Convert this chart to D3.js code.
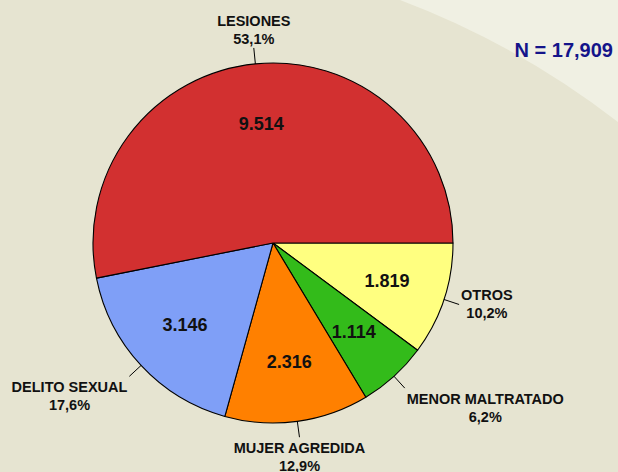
<!DOCTYPE html>
<html>
<head>
<meta charset="utf-8">
<script src="https://cdn.jsdelivr.net/npm/d3@7"></script>
<style>
html,body{margin:0;padding:0;background:#e6e4d1;}
svg{display:block;}
text{font-family:"Liberation Sans",Arial,sans-serif;font-weight:bold;}
</style>
</head>
<body>
<script>
const categories = ["OTROS", "MENOR MALTRATADO", "MUJER AGREDIDA", "DELITO SEXUAL", "LESIONES"];
const values = [1819, 1114, 2316, 3146, 9514];
const valueLabels = ["1.819", "1.114", "2.316", "3.146", "9.514"];
const percentLabels = ["10,2%", "6,2%", "12,9%", "17,6%", "53,1%"];
const colors = ["#ffff80", "#33bb1a", "#ff8000", "#7f9ff7", "#d23030"];
const totalLabel = "N = 17,909";

const W = 618, H = 472;
const cx = 273, cy = 243, R = 180;

const svg = d3.select("body").append("svg").attr("width", W).attr("height", H);

svg.append("rect").attr("width", W).attr("height", H).attr("fill", "#e6e4d1");
svg.append("path")
  .attr("d", "M400,0 Q517,44 618,122 L618,0 Z")
  .attr("fill", "#f0f0e3");

const pie = d3.pie().sort(null).value(d => d)
  .startAngle(Math.PI / 2).endAngle(Math.PI / 2 + 2 * Math.PI);
const arcs = pie(values);
const arc = d3.arc().innerRadius(0).outerRadius(R);
const labelArc = d3.arc().innerRadius(120).outerRadius(120);

const g = svg.append("g").attr("transform", `translate(${cx},${cy})`);

g.selectAll("path.slice").data(arcs).enter().append("path")
  .attr("class", "slice")
  .attr("d", arc)
  .attr("fill", (d, i) => colors[i])
  .attr("stroke", "#000")
  .attr("stroke-width", 1.1)
  .attr("stroke-linejoin", "round");

g.selectAll("text.val").data(arcs).enter().append("text")
  .attr("class", "val")
  .attr("transform", d => `translate(${labelArc.centroid(d)})`)
  .attr("text-anchor", "middle")
  .attr("dy", "0.33em")
  .attr("font-size", "18px")
  .attr("fill", "#111")
  .text((d, i) => valueLabels[i]);

// outside labels with leader lines
arcs.forEach((d, i) => {
  const mid = (d.startAngle + d.endAngle) / 2;
  const sx = Math.sin(mid), sy = -Math.cos(mid);
  const p0 = [sx * R, sy * R];
  const p1 = [sx * (R + 16), sy * (R + 16)];
  g.append("line")
    .attr("x1", p0[0]).attr("y1", p0[1])
    .attr("x2", p1[0]).attr("y2", p1[1])
    .attr("stroke", "#000").attr("stroke-width", 1);

  const t = g.append("text")
    .attr("text-anchor", "middle")
    .attr("font-size", "14.5px")
    .attr("fill", "#111");
  const l1 = t.append("tspan").text(categories[i]);
  const l2 = t.append("tspan").text(percentLabels[i]);
  const w = Math.max(l1.node().getComputedTextLength(), l2.node().getComputedTextLength());
  let dx = 0, dy = 0;
  if (Math.abs(sx) >= 0.3) dx = Math.sign(sx) * (w / 2 + 2);
  if (Math.abs(sy) >= 0.5) dy = Math.sign(sy) * (sy < 0 ? 17.5 : 19.5);
  const bx = p1[0] + dx, by = p1[1] + dy;
  l1.attr("x", bx).attr("y", by - 4);
  l2.attr("x", bx).attr("y", by + 14);
});

svg.append("text")
  .attr("x", 613).attr("y", 57)
  .attr("text-anchor", "end")
  .attr("font-size", "20px")
  .attr("fill", "#14148a")
  .text(totalLabel);
</script>
</body>
</html>
